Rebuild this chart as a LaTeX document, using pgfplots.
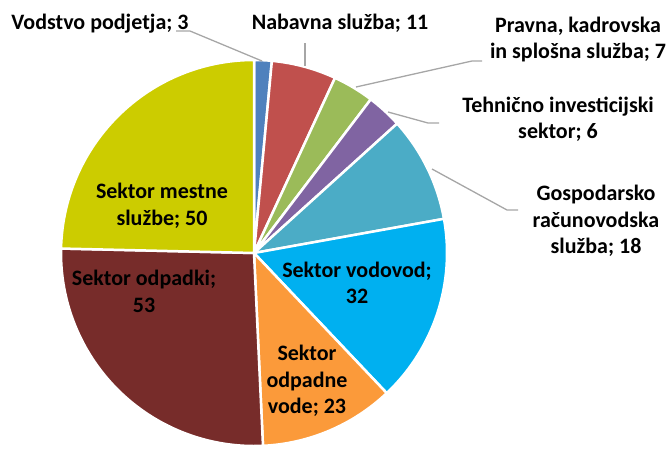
\documentclass[border=0pt]{standalone}
\usepackage{pgfplots}
\pgfplotsset{compat=1.18}
\usepackage{pgfplotstable}
\usepackage{fontspec}
\setmainfont{Carlito}

\definecolor{c0}{HTML}{4F81BD}
\definecolor{c1}{HTML}{C0504D}
\definecolor{c2}{HTML}{9BBB59}
\definecolor{c3}{HTML}{8064A2}
\definecolor{c4}{HTML}{4BACC6}
\definecolor{c5}{HTML}{00B0F0}
\definecolor{c6}{HTML}{FB9A3A}
\definecolor{c7}{HTML}{772C2A}
\definecolor{c8}{HTML}{CCCC00}
\definecolor{leader}{HTML}{A6A6A6}

% values, clockwise from the top
\pgfplotstableread{
val
3
11
7
6
18
32
23
53
50
}\piedata

\begin{document}
\begin{tikzpicture}
% total
\gdef\total{0}
\foreach \i in {0,...,8}{%
  \pgfplotstablegetelem{\i}{val}\of\piedata
  \pgfmathsetmacro\tmp{\total+\pgfplotsretval}%
  \xdef\total{\tmp}%
}
% start/end angles of slices
\gdef\cum{0}
\foreach \i in {0,...,8}{%
  \pgfplotstablegetelem{\i}{val}\of\piedata
  \pgfmathsetmacro\sa{90-(\cum/\total)*360}%
  \pgfmathsetmacro\newcum{\cum+\pgfplotsretval}%
  \pgfmathsetmacro\ea{90-(\newcum/\total)*360}%
  \expandafter\xdef\csname sa\i\endcsname{\sa}%
  \expandafter\xdef\csname ea\i\endcsname{\ea}%
  \xdef\cum{\newcum}%
}
\begin{axis}[
  hide axis, scale only axis,
  width=668pt, height=448pt,
  xmin=0, xmax=668, ymin=0, ymax=448,
  y dir=reverse, clip=false,
]
\pgfplotsinvokeforeach{0,...,8}{
  \fill[c#1, draw=white, line width=2.5pt, line join=round]
    (axis cs:254,253) -- ++({\csname sa#1\endcsname}:193pt)
    arc[start angle={\csname sa#1\endcsname}, end angle={\csname ea#1\endcsname}, radius=193pt] -- cycle;
}
% leader lines
\draw[leader, line width=1.3pt] (axis cs:176,31) -- (axis cs:190,31) -- (axis cs:262,61);
\draw[leader, line width=1.3pt] (axis cs:305,43) -- (axis cs:305,66);
\draw[leader, line width=1.3pt] (axis cs:482,61) -- (axis cs:472,61) -- (axis cs:356,87);
\draw[leader, line width=1.3pt] (axis cs:439,123) -- (axis cs:428,123) -- (axis cs:388,112);
\draw[leader, line width=1.3pt] (axis cs:518,210) -- (axis cs:507,210) -- (axis cs:432,169);
% labels
\tikzset{lbl/.style={anchor=base, inner sep=0pt, font=\bfseries\fontsize{22}{26}\selectfont, text=black}}
\node[lbl] at (axis cs:100,29) {Vodstvo podjetja; 3};
\node[lbl] at (axis cs:340,29) {Nabavna služba; 11};
\node[lbl] at (axis cs:578,32) {Pravna, kadrovska};
\node[lbl] at (axis cs:578,58) {in splošna služba; 7};
\node[lbl] at (axis cs:558,112) {Tehnično investicijski};
\node[lbl] at (axis cs:558,138) {sektor; 6};
\node[lbl] at (axis cs:596,200) {Gospodarsko};
\node[lbl] at (axis cs:596,227) {računovodska};
\node[lbl] at (axis cs:596,253) {služba; 18};
\node[lbl] at (axis cs:162,198) {Sektor mestne};
\node[lbl] at (axis cs:162,225) {službe; 50};
\node[lbl] at (axis cs:357,277) {Sektor vodovod;};
\node[lbl] at (axis cs:357,303) {32};
\node[lbl] at (axis cs:307,360) {Sektor};
\node[lbl] at (axis cs:307,387) {odpadne};
\node[lbl] at (axis cs:307,413) {vode; 23};
\node[lbl] at (axis cs:144,285) {Sektor odpadki;};
\node[lbl] at (axis cs:144,312) {53};
\end{axis}
\pgfresetboundingbox
\path (0,0) rectangle (668pt,448pt);
\end{tikzpicture}
\end{document}
